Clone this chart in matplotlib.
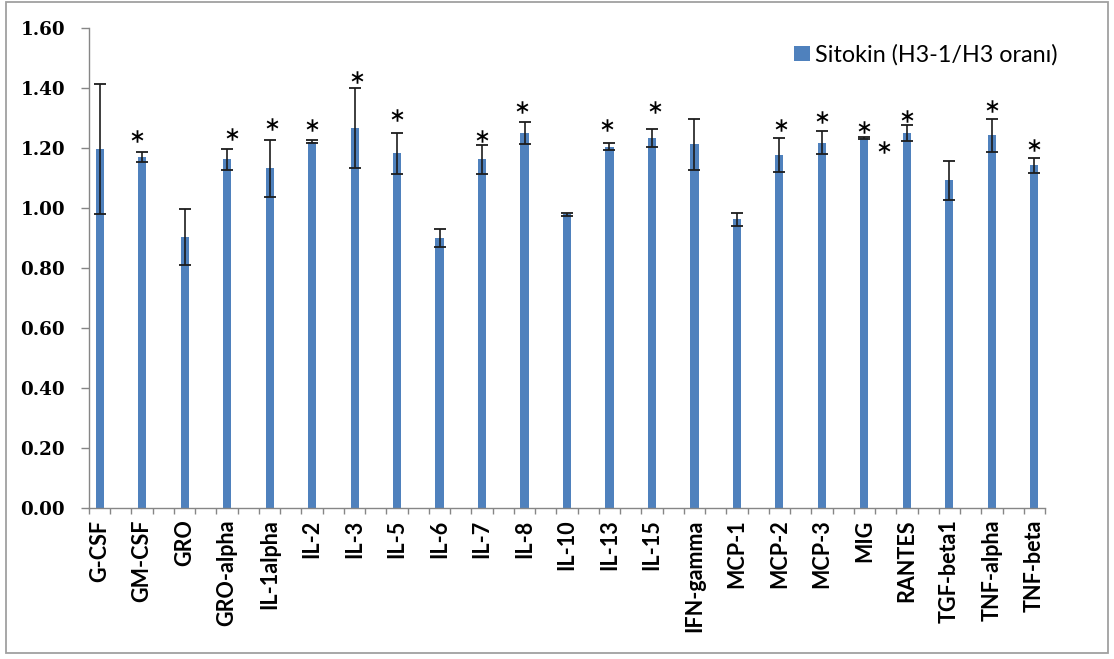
import matplotlib
matplotlib.use("Agg")
import matplotlib.pyplot as plt
from matplotlib.patches import Patch, Rectangle
from matplotlib.path import Path
import numpy as np

# Cytokine ratios (H3-1 / H3) with their error margins
categories = ["G-CSF", "GM-CSF", "GRO", "GRO-alpha", "IL-1alpha", "IL-2", "IL-3",
              "IL-5", "IL-6", "IL-7", "IL-8", "IL-10", "IL-13", "IL-15",
              "IFN-gamma", "MCP-1", "MCP-2", "MCP-3", "MIG", "RANTES",
              "TGF-beta1", "TNF-alpha", "TNF-beta"]
values = [1.195, 1.170, 0.903, 1.161, 1.131, 1.220, 1.267, 1.181, 0.898, 1.161,
          1.248, 0.978, 1.203, 1.231, 1.211, 0.961, 1.176, 1.217, 1.233, 1.248,
          1.092, 1.242, 1.142]
errors = [0.217, 0.017, 0.093, 0.035, 0.096, 0.005, 0.133, 0.068, 0.030, 0.048,
          0.037, 0.006, 0.012, 0.030, 0.085, 0.021, 0.057, 0.039, 0.003, 0.027,
          0.065, 0.055, 0.025]

# Significance marks (*): category position and height
star_x = [0.88, 3.12, 4.06, 5.0, 6.05, 7.0, 9.0, 9.95, 11.95, 13.08,
          16.03, 17.0, 18.0, 18.47, 19.0, 21.0, 22.0]
star_y = [1.239, 1.246, 1.278, 1.276, 1.435, 1.309, 1.239, 1.337, 1.276, 1.337,
          1.276, 1.303, 1.270, 1.203, 1.307, 1.339, 1.209]

legend_label = "Sitokin (H3-1/H3 oranı)"
yticks = [0.0, 0.2, 0.4, 0.6, 0.8, 1.0, 1.2, 1.4, 1.6]

bar_color = "#4F81BD"
axis_gray = "#868686"

# Six-armed asterisk drawn as three crossing strokes
angles = np.deg2rad([90, 30, 150])
verts, codes = [], []
for a in angles:
    verts += [(-np.cos(a), -np.sin(a)), (np.cos(a), np.sin(a))]
    codes += [Path.MOVETO, Path.LINETO]
asterisk = Path(verts, codes)

W, H = 1114, 659
fig = plt.figure(figsize=(W / 100, H / 100), dpi=100)
ax = fig.add_axes([89 / W, 1 - 507.7 / H, (1045 - 89) / W, 480 / H])

x = np.arange(len(categories))
ax.bar(x, values, width=0.19, color=bar_color, zorder=2)
ax.errorbar(x, values, yerr=errors, fmt="none", ecolor="#1c1c1c",
            elinewidth=1.2, capsize=4, capthick=1.3, zorder=3)
ax.plot(star_x, star_y, ls="none", marker=asterisk, ms=9, mew=1.3,
        color="black", zorder=4)

ax.set_xlim(-0.25, len(categories) - 0.75)
ax.set_ylim(0, 1.6)

ax.set_yticks(yticks)
ax.set_yticklabels([f"{v:.2f}" for v in yticks],
                   fontfamily="DejaVu Serif", fontweight="bold", fontsize=13.2)
ax.tick_params(axis="y", length=5.8, width=1, color=axis_gray, pad=11.5)

ax.set_xticks(x)
ax.set_xticklabels(categories, rotation=90, fontfamily="Lato",
                   fontweight="bold", fontsize=15.5)
ax.set_xticks(np.arange(-0.25, len(categories) - 0.74, 0.5), minor=True)
ax.tick_params(axis="x", which="major", length=0, pad=8.5)
ax.tick_params(axis="x", which="minor", length=4.5, width=1, color=axis_gray)

for side in ("top", "right"):
    ax.spines[side].set_visible(False)
for side in ("left", "bottom"):
    ax.spines[side].set_color(axis_gray)
    ax.spines[side].set_linewidth(1)

fig.legend(handles=[Patch(facecolor=bar_color, label=legend_label)],
           loc="center left", bbox_to_anchor=(794 / W, 1 - 55 / H),
           frameon=False, prop={"family": "Lato", "size": 16.8},
           handlelength=0.69, handleheight=0.58, handletextpad=0.22,
           borderpad=0, borderaxespad=0)

# Outer frame around the whole chart
fig.add_artist(Rectangle((6 / W, 6 / H), (1108 - 6) / W, (657 - 6) / H,
                         transform=fig.transFigure, fill=False,
                         edgecolor="#a0a0a0", lw=1.3))

fig.savefig("out.png", dpi=100)
